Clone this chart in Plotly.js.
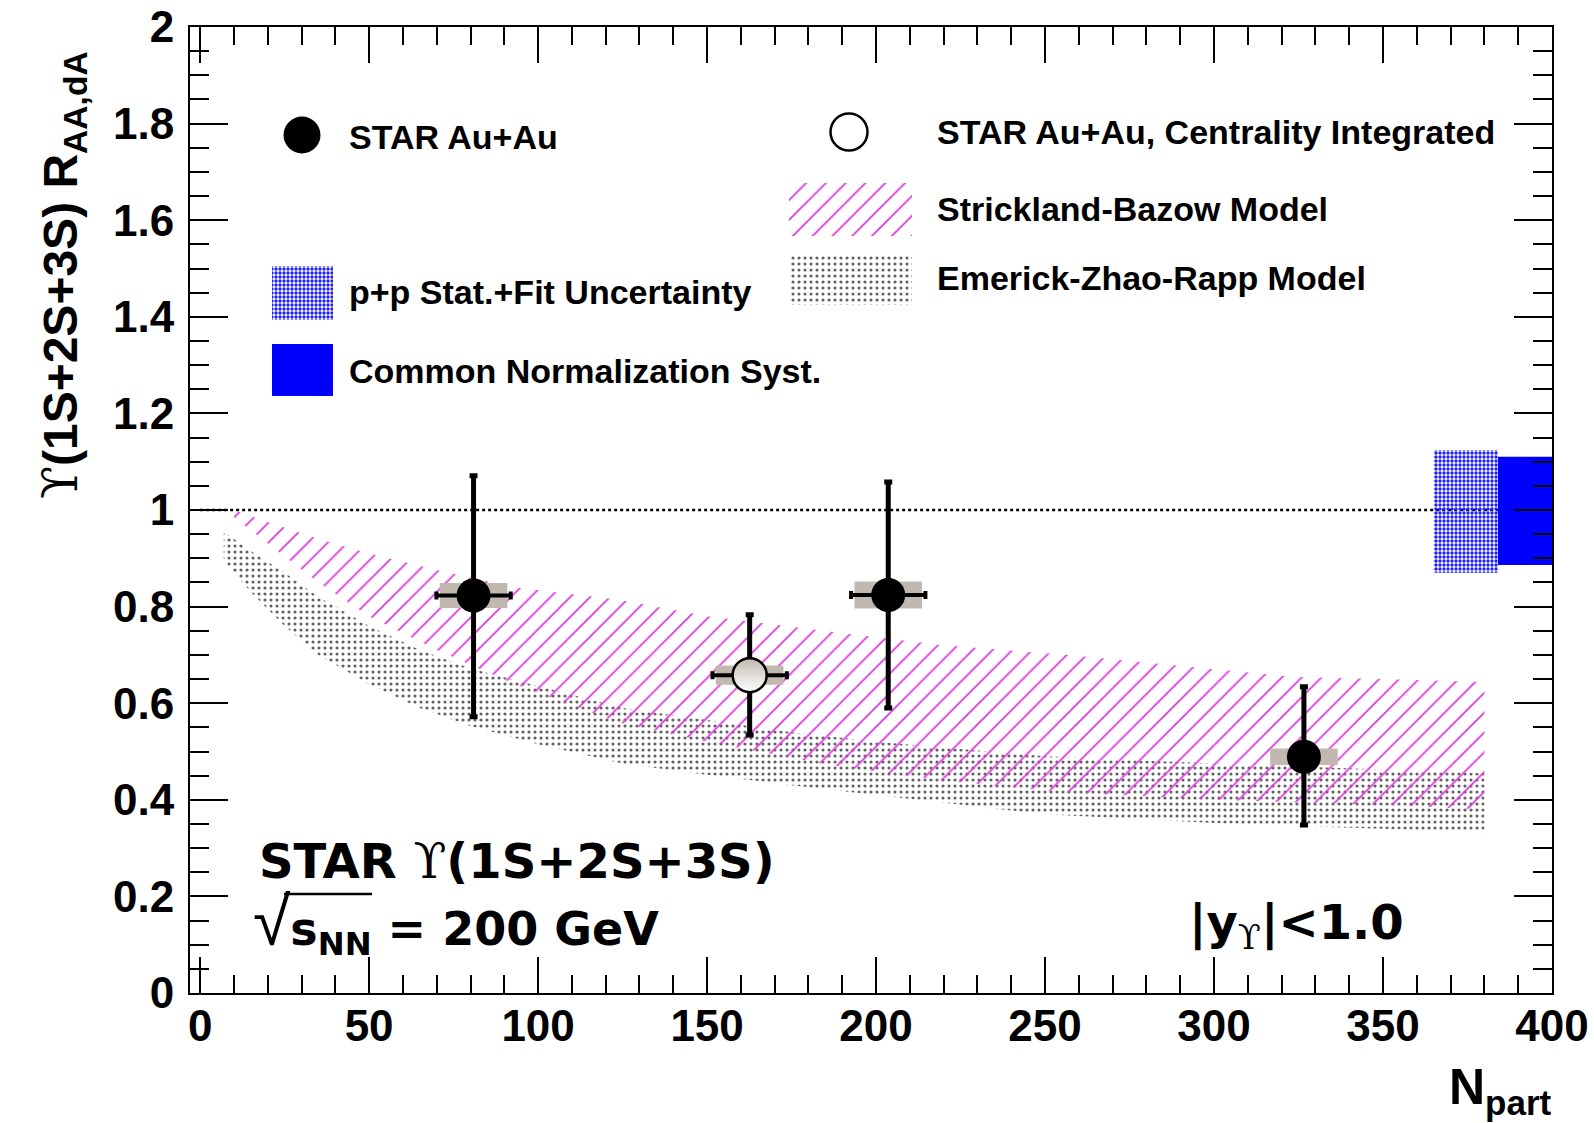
<!DOCTYPE html>
<html>
<head>
<meta charset="utf-8">
<script src="https://cdn.plot.ly/plotly-3.0.1.min.js"></script>
<style>html,body{margin:0;padding:0;background:#fff;}</style>
</head>
<body>
<div id="chart" style="width:1594px;height:1123px;"></div>
<script>
// ---------------- DATA ----------------
// STAR Au+Au, centrality bins
const nPart = [80.9, 203.6, 326.6];
const raa = [0.823, 0.824, 0.489];
const statUp = [0.248, 0.234, 0.145];
const statDown = [0.251, 0.234, 0.141];
const sysErr = [0.026, 0.028, 0.017];
const nPartErr = [11, 11, 0];

// STAR Au+Au, centrality integrated
const nPartInt = [162.6];
const raaInt = [0.658];
const statUpInt = [0.125];
const statDownInt = [0.124];
const sysInt = [0.02];
const nPartErrInt = [11];

// Strickland-Bazow model band
const nPartSB = [10, 20, 35, 50, 70, 93, 124, 150, 188, 220, 257, 300, 324, 350, 380];
const sbUpper = [1.0, 0.975, 0.94, 0.91, 0.876, 0.84, 0.814, 0.78, 0.747, 0.72, 0.70, 0.67, 0.654, 0.65, 0.644];
const sbLower = [0.985, 0.93, 0.85, 0.78, 0.71, 0.64, 0.56, 0.52, 0.47, 0.44, 0.415, 0.40, 0.395, 0.39, 0.38];

// Emerick-Zhao-Rapp model band
const nPartEZR = [7, 15, 25, 35, 50, 65, 80, 100, 125, 150, 175, 200, 250, 300, 350, 380];
const ezrUpper = [0.955, 0.915, 0.87, 0.82, 0.76, 0.71, 0.672, 0.635, 0.59, 0.565, 0.54, 0.52, 0.49, 0.475, 0.462, 0.455];
const ezrLower = [0.895, 0.83, 0.76, 0.70, 0.64, 0.59, 0.553, 0.515, 0.475, 0.452, 0.43, 0.41, 0.37, 0.352, 0.34, 0.333];

// p+p stat.+fit uncertainty and common normalization systematic (around RAA = 1)
const refLevel = [1.0];
const ppUncUp = [0.124];
const ppUncDown = [0.130];
const normUncUp = [0.110];
const normUncDown = [0.114];

// axis ticks
const xTickVals = [0, 50, 100, 150, 200, 250, 300, 350, 400];
const xTickText = ['0', '50', '100', '150', '200', '250', '300', '350', '400'];
const yTickVals = [0, 0.2, 0.4, 0.6, 0.8, 1, 1.2, 1.4, 1.6, 1.8, 2];
const yTickText = ['0', '0.2', '0.4', '0.6', '0.8', '1', '1.2', '1.4', '1.6', '1.8', '2'];

// ---------------- STYLE / LAYOUT CONSTANTS ----------------
const FONT = 'Liberation Sans, Arial, Helvetica, sans-serif';
const WIDE = 'DejaVu Sans, Liberation Sans, sans-serif';
const SERIF = 'DejaVu Serif, Liberation Serif, serif';
const BOX_COLOR = '#c1b9b0';
const BOX_HALF = 10;          // half width of systematic boxes (N_part units)
const PP_X = [365, 384];      // x extent of p+p band box
const NORM_X = [384, 400];    // x extent of normalization box
const L = 190, R = 1552, T = 27, B = 993;   // plot area in pixels
const px = X => (X - L) / (R - L);
const py = Y => (B - Y) / (B - T);

function boxes(xs, ys, errs, hw) {
  const bx = [], by = [];
  xs.forEach((x, i) => {
    const lo = ys[i] - errs[i], hi = ys[i] + errs[i];
    bx.push(x - hw, x + hw, x + hw, x - hw, x - hw, null);
    by.push(lo, lo, hi, hi, lo, null);
  });
  return {x: bx, y: by};
}
function band(xs, up, lo) {
  return {x: xs.concat(xs.slice().reverse()), y: up.concat(lo.slice().reverse())};
}
function rectPoly(x0, x1, lo, hi) {
  return {x: [x0, x1, x1, x0, x0], y: [lo, lo, hi, hi, lo]};
}

const sbBand = band(nPartSB, sbUpper, sbLower);
const ezrBand = band(nPartEZR, ezrUpper, ezrLower);
const sysBoxes = boxes(nPart, raa, sysErr, BOX_HALF);
const sysBoxInt = boxes(nPartInt, raaInt, sysInt, BOX_HALF);
const ppBox = rectPoly(PP_X[0], PP_X[1], refLevel[0] - ppUncDown[0], refLevel[0] + ppUncUp[0]);
const normBox = rectPoly(NORM_X[0], NORM_X[1], refLevel[0] - normUncDown[0], refLevel[0] + normUncUp[0]);

const noLine = {width: 0, color: 'rgba(0,0,0,0)'};
const magentaPattern = {shape: '/', fgcolor: '#dc3cdc', bgcolor: 'rgba(255,255,255,0)', size: 14, solidity: 0.13};
const grayPattern = {shape: '.', fgcolor: 'rgba(30,30,30,0.7)', bgcolor: 'rgba(255,255,255,0)', size: 6, solidity: 0.22};
const bluePattern = {shape: '.', fgcolor: '#1c1cff', bgcolor: 'rgba(255,255,255,0)', size: 4, solidity: 0.55};

const traces = [
  // Emerick-Zhao-Rapp band
  {type: 'scatter', mode: 'lines', x: ezrBand.x, y: ezrBand.y, fill: 'toself',
   fillcolor: 'rgba(0,0,0,0)', fillpattern: grayPattern, line: noLine, hoverinfo: 'skip'},
  // Strickland-Bazow band
  {type: 'scatter', mode: 'lines', x: sbBand.x, y: sbBand.y, fill: 'toself',
   fillcolor: 'rgba(0,0,0,0)', fillpattern: magentaPattern, line: noLine, hoverinfo: 'skip'},
  // reference line at 1
  {type: 'scatter', mode: 'lines', x: [0, PP_X[1]], y: [refLevel[0], refLevel[0]],
   line: {color: 'black', width: 2.5, dash: 'dot'}, hoverinfo: 'skip'},
  // p+p uncertainty
  {type: 'scatter', mode: 'lines', x: ppBox.x, y: ppBox.y, fill: 'toself',
   fillcolor: 'rgba(0,0,0,0)', fillpattern: bluePattern, line: noLine, hoverinfo: 'skip'},
  // common normalization
  {type: 'scatter', mode: 'lines', x: normBox.x, y: normBox.y, fill: 'toself',
   fillcolor: '#0000ff', line: noLine, hoverinfo: 'skip'},
  // systematic boxes
  {type: 'scatter', mode: 'lines', x: sysBoxes.x, y: sysBoxes.y, fill: 'toself',
   fillcolor: BOX_COLOR, line: noLine, hoverinfo: 'skip'},
  {type: 'scatter', mode: 'lines', x: sysBoxInt.x, y: sysBoxInt.y, fill: 'toself',
   fillcolor: BOX_COLOR, line: noLine, hoverinfo: 'skip'},
  // centrality integrated point
  {type: 'scatter', mode: 'markers', x: nPartInt, y: raaInt,
   marker: {symbol: 'circle', size: 34, color: BOX_COLOR, gradient: {type: 'vertical', color: 'white'},
            line: {color: 'black', width: 2.5}},
   error_y: {type: 'data', symmetric: false, array: statUpInt, arrayminus: statDownInt, thickness: 5, width: 4, color: 'black'},
   error_x: {type: 'data', array: nPartErrInt, thickness: 4, width: 4, color: 'black'}},
  // centrality bins
  {type: 'scatter', mode: 'markers', x: nPart, y: raa,
   marker: {symbol: 'circle', size: 34, color: 'black'},
   error_y: {type: 'data', symmetric: false, array: statUp, arrayminus: statDown, thickness: 5, width: 4, color: 'black'},
   error_x: {type: 'data', array: nPartErr, thickness: 4, width: 4, color: 'black'}},
];

// ---------------- LEGEND SWATCHES (pixel coordinates on overlay axes) ----------------
const legendSwatches = [
  {type: 'scatter', mode: 'markers', x: [302], y: [135], xaxis: 'x2', yaxis: 'y2',
   marker: {symbol: 'circle', size: 37, color: 'black'}, hoverinfo: 'skip'},
  {type: 'scatter', mode: 'markers', x: [849], y: [132], xaxis: 'x2', yaxis: 'y2',
   marker: {symbol: 'circle-open', size: 37, color: 'black', line: {width: 2.5}}, hoverinfo: 'skip'},
  Object.assign({type: 'scatter', mode: 'lines', fill: 'toself', fillcolor: 'rgba(0,0,0,0)', fillpattern: magentaPattern,
   line: noLine, xaxis: 'x2', yaxis: 'y2', hoverinfo: 'skip'}, rectPoly(789, 912, 183, 236)),
  Object.assign({type: 'scatter', mode: 'lines', fill: 'toself', fillcolor: 'rgba(0,0,0,0)', fillpattern: grayPattern,
   line: noLine, xaxis: 'x2', yaxis: 'y2', hoverinfo: 'skip'}, rectPoly(789, 912, 256, 305)),
  Object.assign({type: 'scatter', mode: 'lines', fill: 'toself', fillcolor: 'rgba(0,0,0,0)', fillpattern: bluePattern,
   line: noLine, xaxis: 'x2', yaxis: 'y2', hoverinfo: 'skip'}, rectPoly(272, 333, 266, 320)),
  Object.assign({type: 'scatter', mode: 'lines', fill: 'toself', fillcolor: '#0000ff',
   line: noLine, xaxis: 'x2', yaxis: 'y2', hoverinfo: 'skip'}, rectPoly(272, 333, 344, 396)),
];

const upsilon = "<span style='font-family:" + SERIF + ";font-weight:normal'>ϒ</span>";

function ann(text, X, Y, size, opts, family) {
  return Object.assign({
    text: text, x: px(X), y: py(Y), xref: 'paper', yref: 'paper',
    xanchor: 'left', yanchor: 'middle', showarrow: false,
    font: {family: family || FONT, size: size, color: 'black', weight: 'bold'}
  }, opts || {});
}

const radical = "<span style='font-family:Liberation Sans;font-weight:normal;font-size:68px'>√</span>";

const annotations = [
  ann(upsilon + '(1S+2S+3S) R<sub>AA,dA</sub>', 63, 275, 48, {xanchor: 'center', textangle: -90}),
  ann('N<sub>part</sub>', 1554, 1090, 50, {xanchor: 'right'}),
  ann('STAR ' + upsilon + '(1S+2S+3S)', 257, 861, 48, null, WIDE),
  ann(radical + 's<sub>NN</sub> = 200 GeV', 251, 923, 46, null, WIDE),
  ann('|y<sub>' + upsilon + '</sub>|&lt;1.0', 1187, 925, 48, null, WIDE),
  ann('STAR Au+Au', 347, 137, 34),
  ann('STAR Au+Au, Centrality Integrated', 935, 132, 34),
  ann('Strickland-Bazow Model', 935, 209, 34),
  ann('Emerick-Zhao-Rapp Model', 935, 278, 34),
  ann('p+p Stat.+Fit Uncertainty', 347, 292, 34),
  ann('Common Normalization Syst.', 347, 371, 34),
];

const shapes = [
  {type: 'line', xref: 'paper', yref: 'paper', x0: px(284), x1: px(372), y0: py(894), y1: py(894),
   line: {color: 'black', width: 2.5}},
];

const axisCommon = {
  showgrid: false, zeroline: false, showline: true, linecolor: 'black', linewidth: 2,
  mirror: 'ticks', ticks: 'inside', tickcolor: 'black', tickwidth: 2,
  tickfont: {family: FONT, size: 44, color: 'black', weight: 'bold'},
  tickmode: 'array'
};

const layout = {
  width: 1594, height: 1123,
  margin: {l: L, r: 1594 - R, t: T, b: 1123 - B, pad: 0},
  paper_bgcolor: 'white', plot_bgcolor: 'white',
  showlegend: false,
  xaxis: Object.assign({}, axisCommon, {
    range: [-3, 400], tickvals: xTickVals, ticktext: xTickText, ticklen: 36,
    ticklabelstandoff: -7,
    minor: {tickmode: 'linear', tick0: 0, dtick: 10, ticks: 'inside', ticklen: 18, tickwidth: 2, tickcolor: 'black'}
  }),
  yaxis: Object.assign({}, axisCommon, {
    range: [0, 2], tickvals: yTickVals, ticktext: yTickText, ticklen: 38,
    ticklabelstandoff: 5,
    minor: {tickmode: 'linear', tick0: 0, dtick: 0.05, ticks: 'inside', ticklen: 19, tickwidth: 2, tickcolor: 'black'}
  }),
  xaxis2: {overlaying: 'x', anchor: 'y2', range: [L, R], visible: false, fixedrange: true},
  yaxis2: {overlaying: 'y', anchor: 'x2', range: [B, T], visible: false, fixedrange: true},
  annotations: annotations,
  shapes: shapes
};

Plotly.newPlot('chart', traces.concat(legendSwatches), layout, {staticPlot: true, displayModeBar: false});
</script>
</body>
</html>
